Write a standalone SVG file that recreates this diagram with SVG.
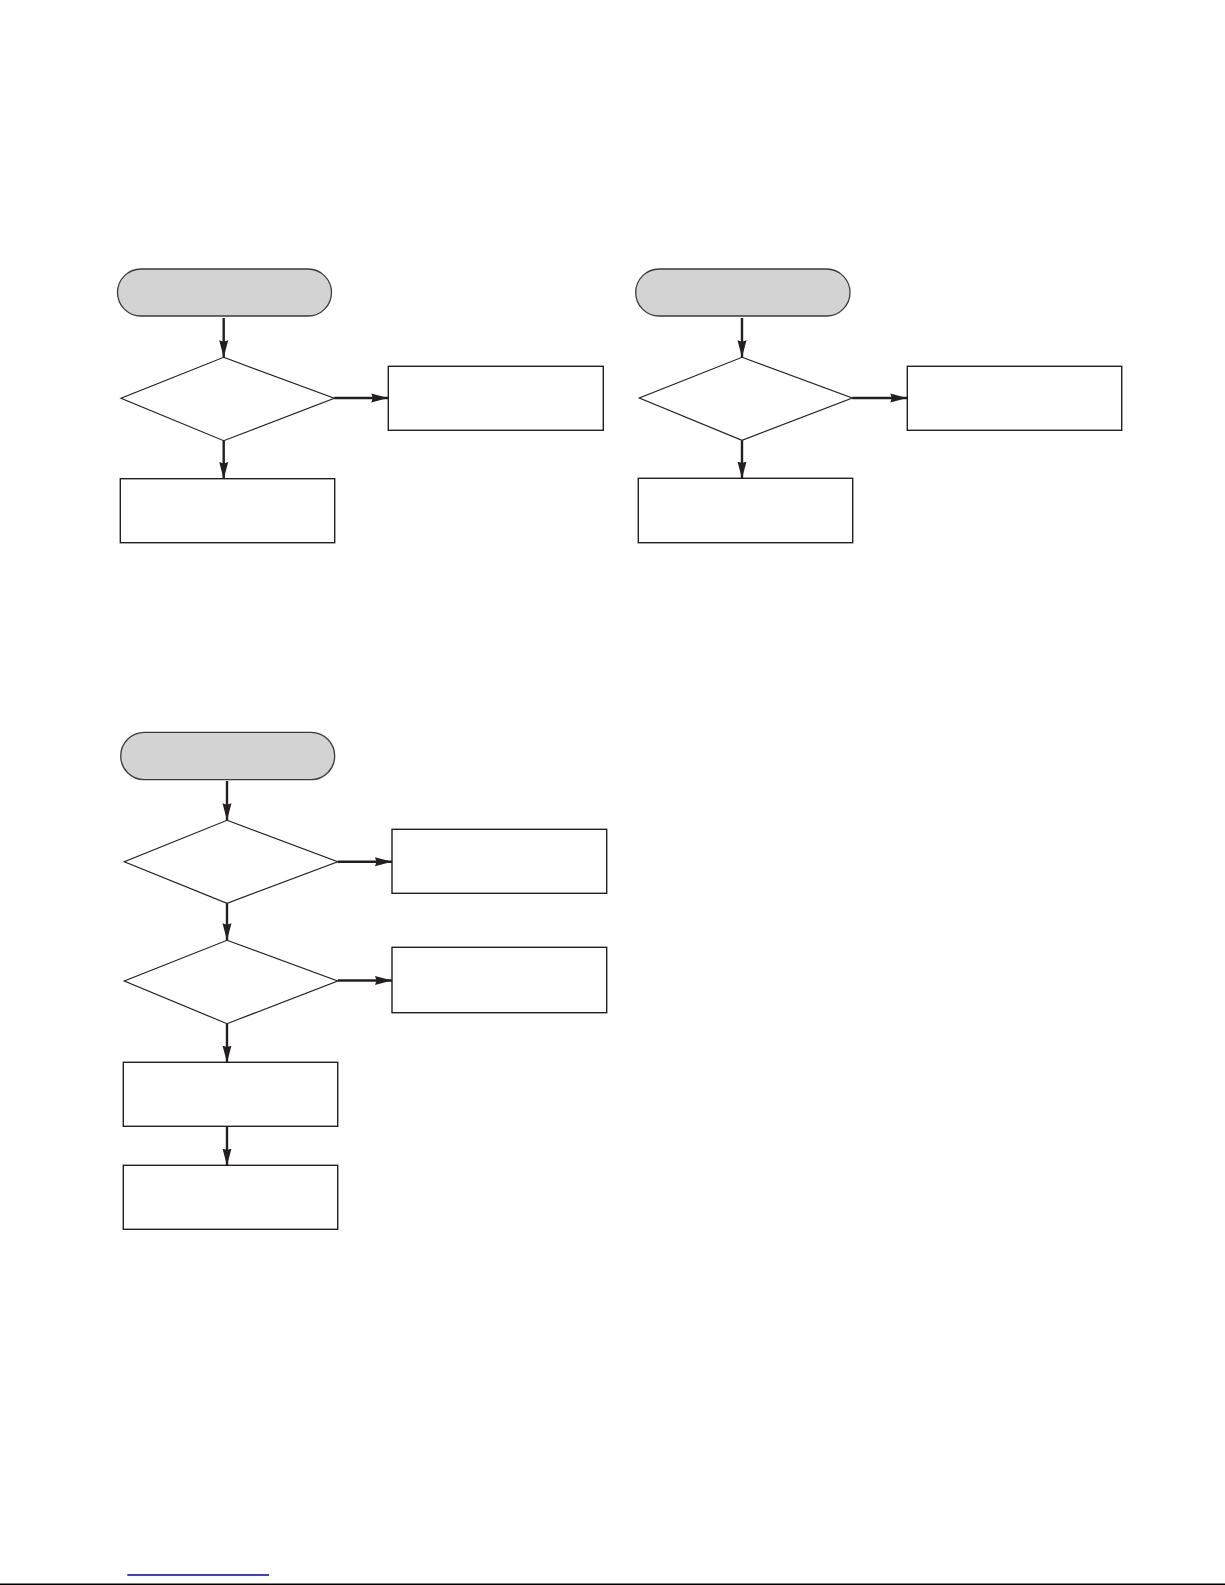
<svg xmlns="http://www.w3.org/2000/svg" width="1225" height="1585" viewBox="0 0 1225 1585">
<style>
.pill{fill:#d3d3d3;stroke:#3a3a3a;stroke-width:1.3}
.box{fill:#fff;stroke:#231f20;stroke-width:1.4}
.dia{fill:#fff;stroke:#231f20;stroke-width:1.2}
.con{fill:none;stroke:#231f20;stroke-width:2.4}
</style>
<defs>
<marker id="ah" markerUnits="userSpaceOnUse" viewBox="0 0 17 10" refX="17" refY="5" markerWidth="17" markerHeight="10" orient="auto">
<path d="M0,0.5 L17,5 L0,9.5 L1.5,5 Z" fill="#231f20"/>
</marker>
</defs>
<rect width="1225" height="1585" fill="#fff"/>

<!-- Chart 1 -->
<g id="c1-start"><rect class="pill" x="117.5" y="269" width="214" height="47" rx="23.5"/></g>
<g id="c1-dec"><polygon class="dia" points="223.7,357.3 334.3,398.3 223.7,440.7 121,398.3"/></g>
<g id="c1-right"><rect class="box" x="388.3" y="366.3" width="215" height="64"/></g>
<g id="c1-bottom"><rect class="box" x="120.3" y="478.7" width="214.4" height="64"/></g>

<!-- Chart 2 -->
<g id="c2-start"><rect class="pill" x="635.7" y="269" width="214.3" height="47" rx="23.5"/></g>
<g id="c2-dec"><polygon class="dia" points="742,357.3 852.3,398 742,440.3 639.3,398"/></g>
<g id="c2-right"><rect class="box" x="907.3" y="366.3" width="214.4" height="64"/></g>
<g id="c2-bottom"><rect class="box" x="638.3" y="478.3" width="214.4" height="64.4"/></g>

<!-- Chart 3 -->
<g id="c3-start"><rect class="pill" x="120.7" y="732.3" width="214" height="47.4" rx="23.7"/></g>
<g id="c3-dec1"><polygon class="dia" points="227,820.3 337.7,861.7 227,903.3 124.3,861.7"/></g>
<g id="c3-right1"><rect class="box" x="392" y="829.3" width="214.7" height="64"/></g>
<g id="c3-dec2"><polygon class="dia" points="227,940.3 337.7,981 227,1023.7 124.3,981"/></g>
<g id="c3-right2"><rect class="box" x="392" y="947.3" width="214.7" height="65.4"/></g>
<g id="c3-box3"><rect class="box" x="123.3" y="1062.3" width="214.4" height="64"/></g>
<g id="c3-box4"><rect class="box" x="123.3" y="1165.3" width="214.4" height="64"/></g>

<g id="connectors">
<line class="con" x1="223.7" y1="318" x2="223.7" y2="357.3" marker-end="url(#ah)"/>
<line class="con" x1="334.3" y1="398" x2="388.3" y2="398" marker-end="url(#ah)"/>
<line class="con" x1="223.7" y1="440.7" x2="223.7" y2="479" marker-end="url(#ah)"/>

<line class="con" x1="742" y1="318" x2="742" y2="357.3" marker-end="url(#ah)"/>
<line class="con" x1="852.3" y1="398" x2="907.3" y2="398" marker-end="url(#ah)"/>
<line class="con" x1="742" y1="440.3" x2="742" y2="478.6" marker-end="url(#ah)"/>

<line class="con" x1="227" y1="781" x2="227" y2="820.3" marker-end="url(#ah)"/>
<line class="con" x1="337.7" y1="861.7" x2="392" y2="861.7" marker-end="url(#ah)"/>
<line class="con" x1="227" y1="903.3" x2="227" y2="940.3" marker-end="url(#ah)"/>
<line class="con" x1="337.7" y1="980.5" x2="392" y2="980.5" marker-end="url(#ah)"/>
<line class="con" x1="227" y1="1023.7" x2="227" y2="1062.6" marker-end="url(#ah)"/>
<line class="con" x1="227" y1="1126.3" x2="227" y2="1165.5" marker-end="url(#ah)"/>
</g>

<line x1="127.3" y1="1575" x2="269" y2="1575" stroke="#0000c0" stroke-width="1.5"/>
<line x1="0" y1="1584.2" x2="1225" y2="1584.2" stroke="#000" stroke-width="1.6"/>
</svg>
